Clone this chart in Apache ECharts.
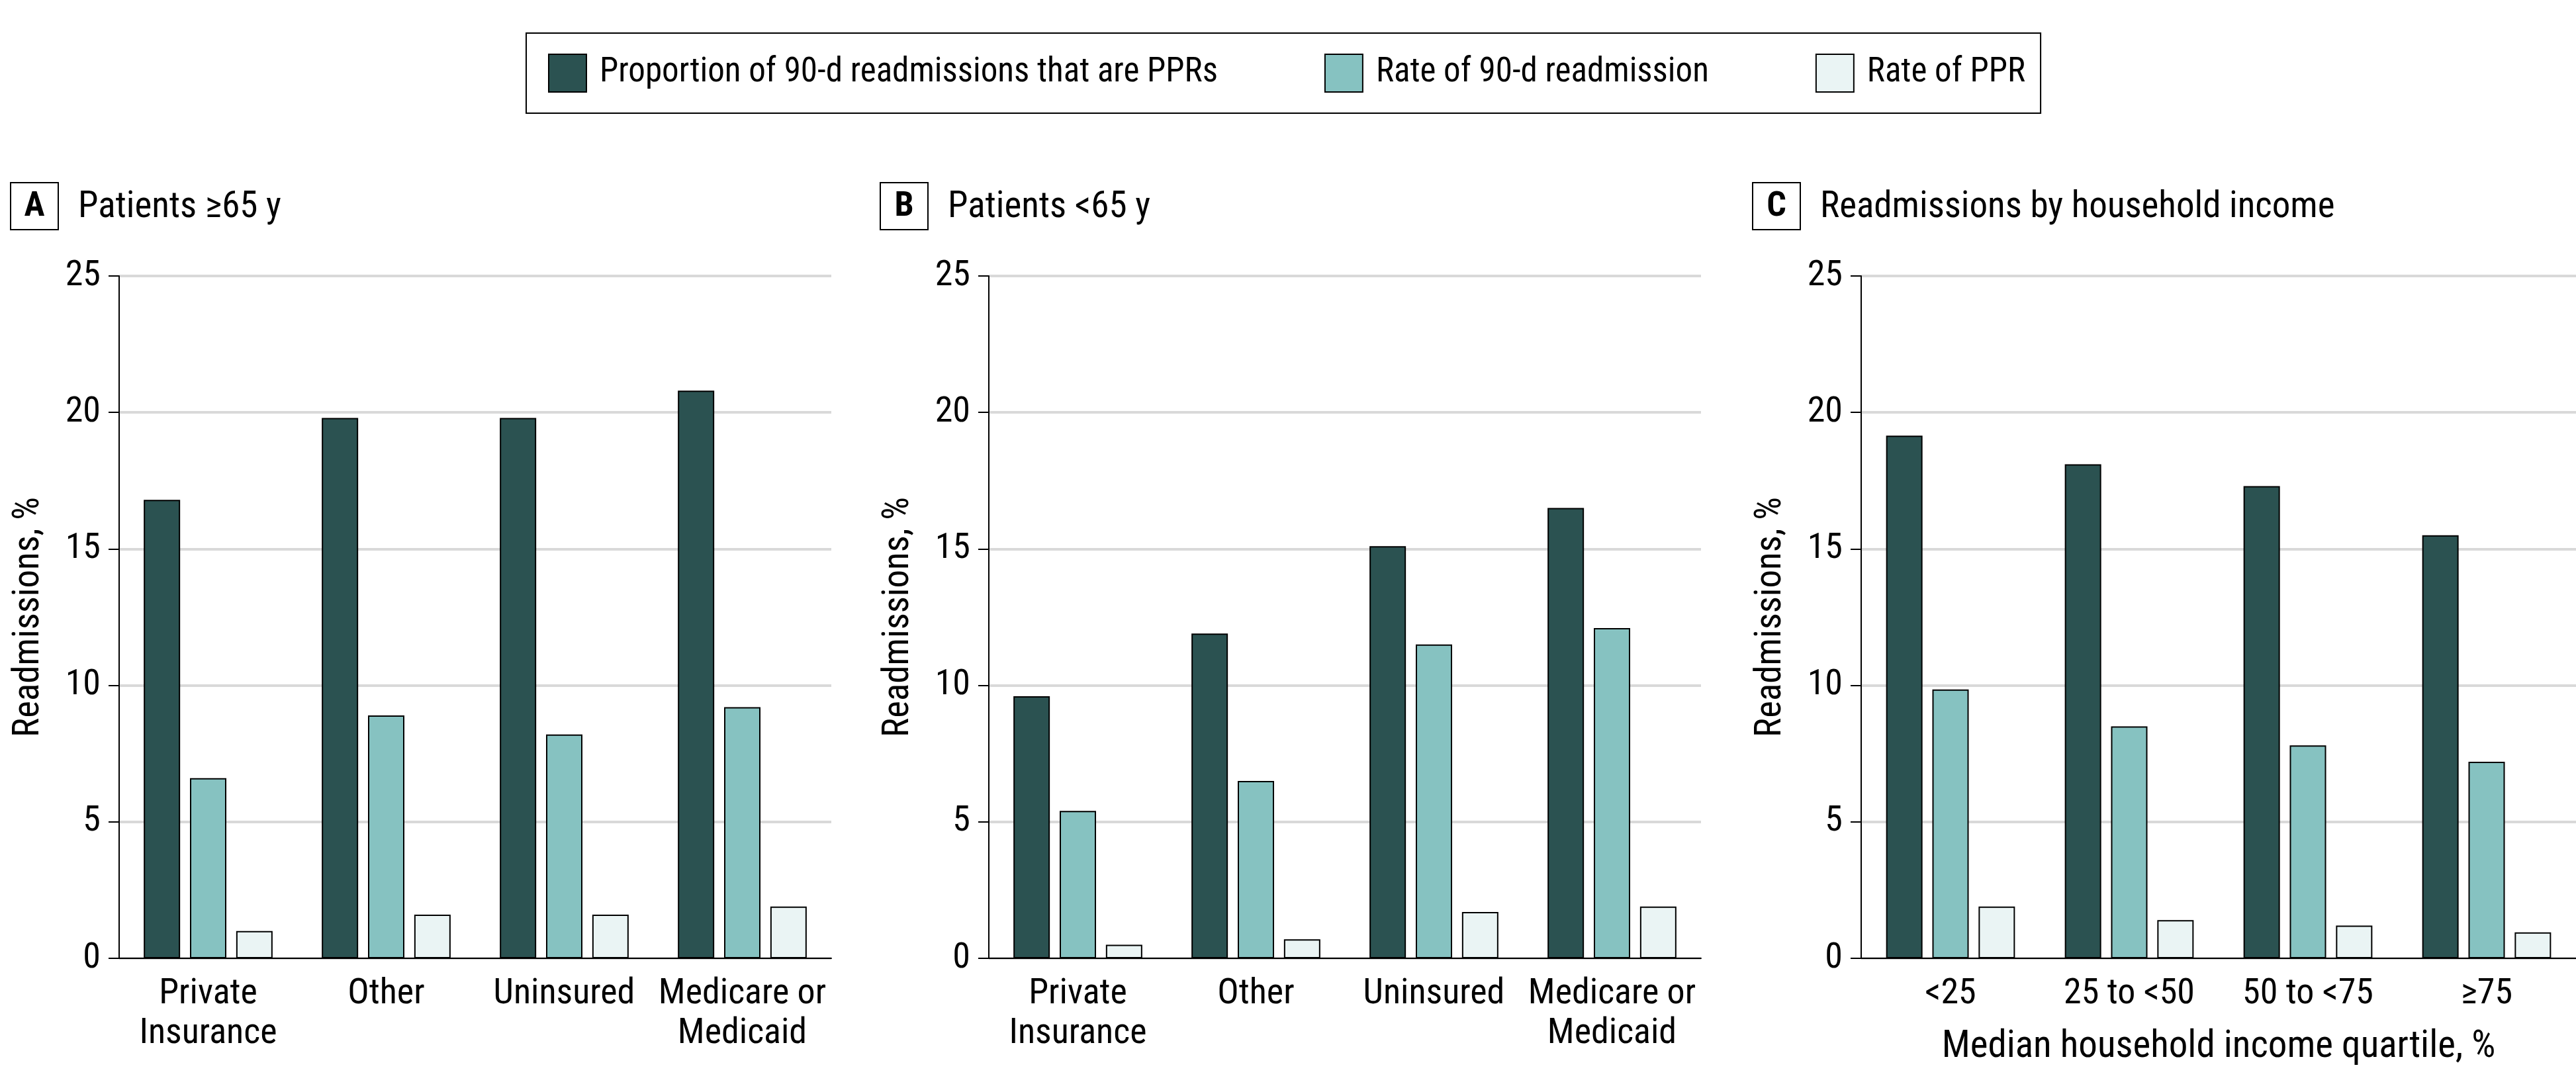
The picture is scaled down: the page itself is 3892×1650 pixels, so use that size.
<!DOCTYPE html>
<html>
<head>
<meta charset="utf-8">
<script src="https://cdn.jsdelivr.net/npm/echarts@6/dist/echarts.min.js"></script>
<style>
html,body{margin:0;padding:0;background:#fff;}
#chart{width:3892px;height:1650px;}
</style>
</head>
<body>
<div id="chart"></div>
<script>
// ---- data ----
const seriesNames = ['Proportion of 90-d readmissions that are PPRs', 'Rate of 90-d readmission', 'Rate of PPR'];
const insuranceCategories = ['Private\nInsurance', 'Other', 'Uninsured', 'Medicare or\nMedicaid'];
const incomeCategories = ['<25', '25 to <50', '50 to <75', '≥75'];
const yTicks = [0, 5, 10, 15, 20, 25];

// Panel A: Patients >=65 y
const a_proportionPPR = [16.8, 19.8, 19.8, 20.8];
const a_rate90d = [6.6, 8.9, 8.2, 9.2];
const a_ratePPR = [1.0, 1.6, 1.6, 1.9];
// Panel B: Patients <65 y
const b_proportionPPR = [9.6, 11.9, 15.1, 16.5];
const b_rate90d = [5.4, 6.5, 11.5, 12.1];
const b_ratePPR = [0.5, 0.7, 1.7, 1.9];
// Panel C: by household income
const c_proportionPPR = [19.15, 18.1, 17.3, 15.5];
const c_rate90d = [9.85, 8.5, 7.8, 7.2];
const c_ratePPR = [1.9, 1.4, 1.2, 0.95];

const panelTitles = ['Patients ≥65 y', 'Patients <65 y', 'Readmissions by household income'];
const panelLetters = ['A', 'B', 'C'];
const yAxisName = 'Readmissions, %';
const cAxisName = 'Median household income quartile, %';

// ---- styles ----
const FONT = "'Liberation Sans Narrow', 'Roboto Condensed', 'Noto Sans', sans-serif";
const colors = ['#2B5251', '#86C2C1', '#EAF4F4'];
const grids = [
  {left: 180, top: 417, width: 1076, height: 1031},
  {left: 1494, top: 417, width: 1076, height: 1031},
  {left: 2812, top: 417, width: 1080, height: 1031}
];

const chart = echarts.init(document.getElementById('chart'), null, {renderer: 'canvas'});

function yAxis(i) {
  return {
    type: 'value', gridIndex: i, min: yTicks[0], max: yTicks[yTicks.length - 1], interval: yTicks[1] - yTicks[0],
    name: yAxisName, nameLocation: 'middle', nameGap: 108, nameRotate: 90,
    nameTextStyle: {fontFamily: FONT, fontSize: 55, color: '#000'},
    axisLine: {show: true, lineStyle: {color: '#000', width: 2}},
    axisTick: {show: true, length: 16, lineStyle: {color: '#000', width: 2}},
    axisLabel: {fontFamily: FONT, fontSize: 54, color: '#000', margin: 28},
    splitLine: {show: true, lineStyle: {color: '#D9D9D9', width: 4}}
  };
}
function xAxis(i, cats, name) {
  const ax = {
    type: 'category', gridIndex: i, data: cats,
    axisLine: {show: true, lineStyle: {color: '#000', width: 2}},
    axisTick: {show: false},
    axisLabel: {fontFamily: FONT, fontSize: 54, color: '#000', margin: 24, lineHeight: 60, interval: 0},
    splitLine: {show: false}
  };
  if (name) {
    ax.name = name; ax.nameLocation = 'middle'; ax.nameGap = 106;
    ax.nameTextStyle = {fontFamily: FONT, fontSize: 57, color: '#000'};
  }
  return ax;
}
function bars(i, vals) {
  return vals.map((v, k) => ({
    name: seriesNames[k], type: 'bar', xAxisIndex: i, yAxisIndex: i, data: v,
    barWidth: 55, barGap: '27%',
    itemStyle: {color: colors[k], borderColor: '#000', borderWidth: 2},
    emphasis: {disabled: true}
  }));
}

const graphics = [];
grids.forEach((g, i) => {
  graphics.push({
    type: 'rect', shape: {x: g.left - 164, y: 276, width: 72, height: 71},
    style: {fill: 'none', stroke: '#000', lineWidth: 2}, silent: true
  });
  graphics.push({
    type: 'text', x: g.left - 128, y: 313,
    style: {text: panelLetters[i], font: "bold 52px " + FONT, fill: '#000', textAlign: 'center', textVerticalAlign: 'middle'}
  });
  graphics.push({
    type: 'text', x: g.left - 62, y: 314,
    style: {text: panelTitles[i], font: "55px " + FONT, fill: '#000', textAlign: 'left', textVerticalAlign: 'middle'}
  });
});

chart.setOption({
  animation: false,
  backgroundColor: '#fff',
  legend: {
    data: seriesNames, left: 795, top: 50, orient: 'horizontal',
    padding: [31, 23, 31, 33], itemGap: 161, itemWidth: 57, itemHeight: 57,
    borderColor: '#000', borderWidth: 2, icon: 'rect', selectedMode: false,
    textStyle: {fontFamily: FONT, fontSize: 51, color: '#000', padding: [0, 0, 0, 15]}
  },
  grid: grids,
  xAxis: [xAxis(0, insuranceCategories), xAxis(1, insuranceCategories), xAxis(2, incomeCategories, cAxisName)],
  yAxis: [yAxis(0), yAxis(1), yAxis(2)],
  series: [].concat(
    bars(0, [a_proportionPPR, a_rate90d, a_ratePPR]),
    bars(1, [b_proportionPPR, b_rate90d, b_ratePPR]),
    bars(2, [c_proportionPPR, c_rate90d, c_ratePPR])
  ),
  graphic: graphics
});
</script>
</body>
</html>
